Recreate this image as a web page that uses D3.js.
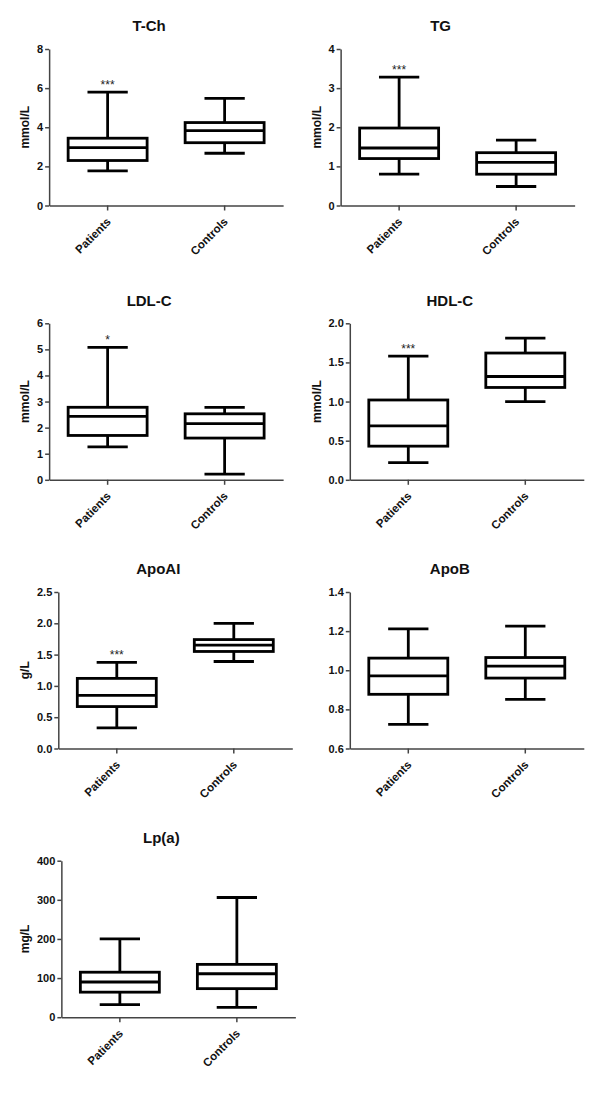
<!DOCTYPE html>
<html>
<head>
<meta charset="utf-8">
<script src="https://cdn.jsdelivr.net/npm/d3@7"></script>
<style>
  html, body { margin: 0; padding: 0; background: #fff; }
  svg { display: block; font-family: "Liberation Sans", Arial, sans-serif; }
</style>
</head>
<body>
<svg id="chart" width="600" height="1101"></svg>
<script>
// ---- data ----
const panels = ["T-Ch", "TG", "LDL-C", "HDL-C", "ApoAI", "ApoB", "Lp(a)"];
const units = ["mmol/L", "mmol/L", "mmol/L", "mmol/L", "g/L", "", "mg/L"];
const groups = ["Patients", "Controls"];
const yDomainMin = [0, 0, 0, 0, 0, 0.6, 0];
const yDomainMax = [8, 4, 6, 2.0, 2.5, 1.4, 400];
const yTicks = [
  [0, 2, 4, 6, 8],
  [0, 1, 2, 3, 4],
  [0, 1, 2, 3, 4, 5, 6],
  [0, 0.5, 1.0, 1.5, 2.0],
  [0, 0.5, 1.0, 1.5, 2.0, 2.5],
  [0.6, 0.8, 1.0, 1.2, 1.4],
  [0, 100, 200, 300, 400]
];
const tickDecimals = [0, 0, 0, 1, 1, 1, 0];

const patientsMin = [1.77, 0.80, 1.26, 0.22, 0.33, 0.723, 32];
const patientsQ1  = [2.30, 1.20, 1.70, 0.43, 0.67, 0.877, 64];
const patientsMed = [2.96, 1.47, 2.43, 0.69, 0.85, 0.971, 90];
const patientsQ3  = [3.44, 1.98, 2.78, 1.02, 1.12, 1.062, 115];
const patientsMax = [5.80, 3.28, 5.08, 1.58, 1.376, 1.212, 200];

const controlsMin = [2.67, 0.485, 0.22, 1.00, 1.39, 0.851, 25];
const controlsQ1  = [3.21, 0.80, 1.60, 1.18, 1.55, 0.960, 73];
const controlsMed = [3.83, 1.10, 2.15, 1.32, 1.65, 1.021, 111];
const controlsQ3  = [4.24, 1.35, 2.53, 1.62, 1.74, 1.065, 135];
const controlsMax = [5.48, 1.67, 2.78, 1.81, 2.00, 1.226, 306];

const significance = ["***", "***", "*", "***", "***", "", ""];

// ---- layout ----
const colLeft = [0, 300];
const rowTop = [49, 323.3, 592, 860.7];
const plotW = 234, plotH = 156.5;
const tickLabelStart = [35, 326.5];
const yLabelX = [25, 316.7];
const axisColor = "#444";

const svg = d3.select("#chart");

panels.forEach((name, i) => {
  const col = i % 2, row = Math.floor(i / 2);
  const top = rowTop[row];
  const g = svg.append("g");

  const fmt = d3.format("." + tickDecimals[i] + "f");

  // measure tick label width
  const meas = g.append("g").attr("font-size", 11).attr("font-weight", "bold");
  let maxW = 0;
  yTicks[i].forEach(t => {
    const tx = meas.append("text").text(fmt(t));
    maxW = Math.max(maxW, tx.node().getComputedTextLength());
  });
  meas.remove();

  const left = tickLabelStart[col] + maxW + 8;

  const y = d3.scaleLinear().domain([yDomainMin[i], yDomainMax[i]]).range([top + plotH, top]);
  const x = d3.scaleBand().domain(groups).range([left, left + plotW]).padding(0);

  // y axis
  const yAxis = g.append("g")
    .attr("transform", `translate(${left},0)`)
    .call(d3.axisLeft(y).tickValues(yTicks[i]).tickFormat(fmt).tickSize(4).tickPadding(2).tickSizeOuter(0));
  yAxis.select(".domain").attr("stroke", axisColor).attr("stroke-width", 1.5);
  yAxis.selectAll(".tick line").attr("stroke", axisColor).attr("stroke-width", 1.5);
  yAxis.selectAll(".tick text").attr("fill", "#111").attr("font-size", 11).attr("font-weight", "bold")
    .attr("font-family", "Liberation Sans, Arial, sans-serif");

  // x axis
  const xAxis = g.append("g")
    .attr("transform", `translate(0,${top + plotH})`)
    .call(d3.axisBottom(x).tickSize(5).tickSizeOuter(0).tickPadding(3));
  xAxis.select(".domain").attr("stroke", axisColor).attr("stroke-width", 1.5);
  xAxis.selectAll(".tick line").attr("stroke", axisColor).attr("stroke-width", 1.5);
  xAxis.selectAll(".tick text")
    .attr("fill", "#111").attr("font-size", 11.5).attr("font-weight", "bold")
    .attr("font-family", "Liberation Sans, Arial, sans-serif")
    .attr("text-anchor", "end")
    .attr("dy", null)
    .attr("y", 0)
    .attr("transform", "translate(4,17) rotate(-45)");

  // title
  g.append("text")
    .attr("x", left + plotW / 2 - 17)
    .attr("y", top - 23)
    .attr("dy", "0.35em")
    .attr("text-anchor", "middle")
    .attr("font-size", 15).attr("font-weight", "bold").attr("fill", "#111")
    .text(name);

  // y label
  if (units[i]) {
    g.append("text")
      .attr("transform", `translate(${yLabelX[col]},${top + plotH / 2}) rotate(-90)`)
      .attr("dy", "0.35em")
      .attr("text-anchor", "middle")
      .attr("font-size", 12).attr("font-weight", "bold").attr("fill", "#111")
      .text(units[i]);
  }

  // boxes
  const stats = [
    { grp: groups[0], min: patientsMin[i], q1: patientsQ1[i], med: patientsMed[i], q3: patientsQ3[i], max: patientsMax[i] },
    { grp: groups[1], min: controlsMin[i], q1: controlsQ1[i], med: controlsMed[i], q3: controlsQ3[i], max: controlsMax[i] }
  ];
  const boxW = x.bandwidth() * 0.675;
  const capW = boxW * 0.51;
  const sw = 2.8;

  stats.forEach(s => {
    const cx = x(s.grp) + x.bandwidth() / 2;
    const bg = g.append("g").attr("stroke", "#000").attr("stroke-width", sw).attr("fill", "none");
    // whiskers
    bg.append("line").attr("x1", cx).attr("x2", cx).attr("y1", y(s.q3)).attr("y2", y(s.max));
    bg.append("line").attr("x1", cx).attr("x2", cx).attr("y1", y(s.q1)).attr("y2", y(s.min));
    bg.append("line").attr("x1", cx - capW / 2).attr("x2", cx + capW / 2).attr("y1", y(s.max)).attr("y2", y(s.max));
    bg.append("line").attr("x1", cx - capW / 2).attr("x2", cx + capW / 2).attr("y1", y(s.min)).attr("y2", y(s.min));
    // box
    bg.append("rect").attr("x", cx - boxW / 2).attr("y", y(s.q3))
      .attr("width", boxW).attr("height", y(s.q1) - y(s.q3)).attr("fill", "#fff");
    bg.append("line").attr("x1", cx - boxW / 2).attr("x2", cx + boxW / 2).attr("y1", y(s.med)).attr("y2", y(s.med));
  });

  // significance
  if (significance[i]) {
    const cx = x(groups[0]) + x.bandwidth() / 2;
    g.append("text")
      .attr("x", cx).attr("y", y(patientsMax[i]) - 3)
      .attr("text-anchor", "middle")
      .attr("font-size", 12).attr("fill", "#222")
      .text(significance[i]);
  }
});
</script>
</body>
</html>
